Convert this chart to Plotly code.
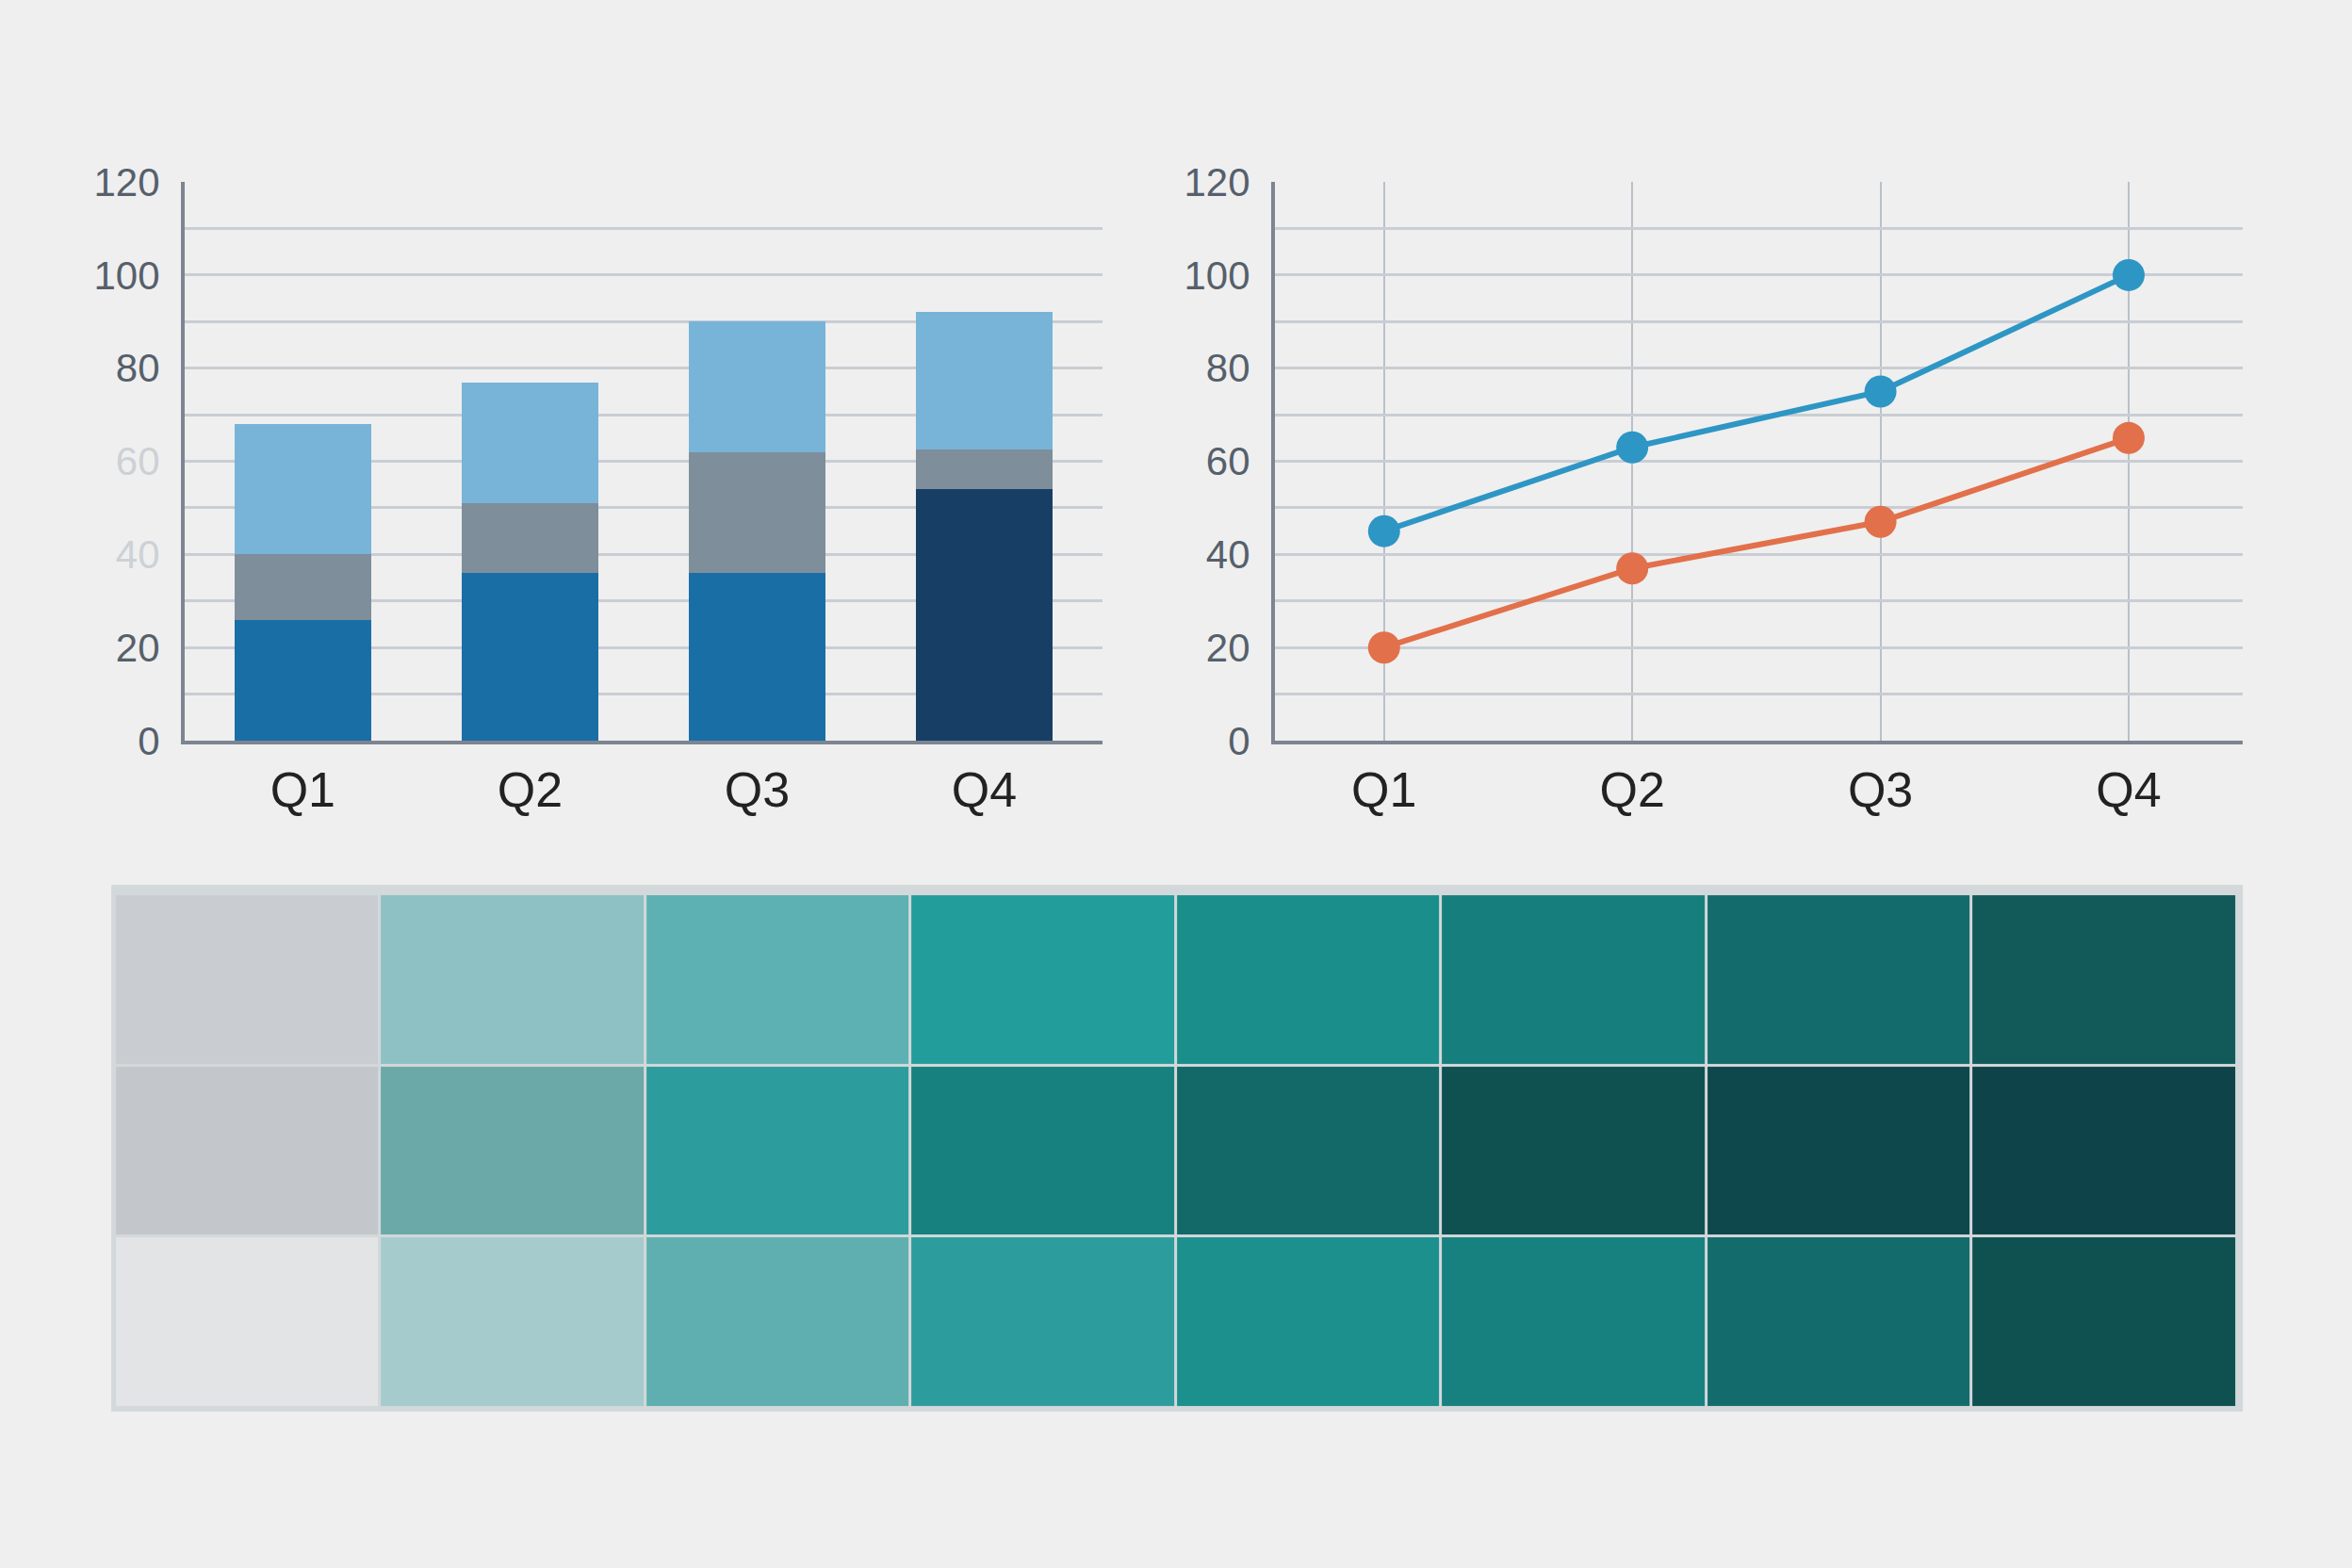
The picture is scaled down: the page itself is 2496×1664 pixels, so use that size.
import plotly.graph_objects as go

# --- data ---
quarters = ["Q1", "Q2", "Q3", "Q4"]

# stacked bars (left panel), bottom to top
bar_base = [26, 36, 36, 54]
bar_mid = [14, 15, 26, 8.5]
bar_top = [28, 26, 28, 29.5]

# line panel (right)
line_blue = [45, 63, 75, 100]
line_orange = [20, 37, 47, 65]

# heatmap (bottom), rows top -> bottom
heat_cols = ["c1", "c2", "c3", "c4", "c5", "c6", "c7", "c8"]
heat_rows = ["r1", "r2", "r3"]
heat_z = [
    [12, 30, 45, 60, 68, 76, 85, 90],
    [15, 40, 56, 75, 83, 93, 97, 100],
    [0, 24, 44, 56, 67, 75, 85, 93],
]

y_vals = list(range(0, 130, 10))
faint = "#cdd1d5"
left_text = ["0", "", "20", "", f"<span style='color:{faint}'>40</span>", "",
             f"<span style='color:{faint}'>60</span>", "", "80", "", "100", "", "120"]
right_text = ["0", "", "20", "", "40", "", "60", "", "80", "", "100", "", "120"]

BG = "#efefef"
GRID = "#c9cdd4"
AXIS = "#7c8591"
TICK = "#56606b"

fig = go.Figure()

# --- stacked bars ---
fig.add_trace(go.Bar(x=quarters, y=bar_base, width=0.6,
                     marker=dict(color=["#1a6ea6", "#1a6ea6", "#1a6ea6", "#173f66"], line=dict(width=0)),
                     xaxis="x", yaxis="y"))
fig.add_trace(go.Bar(x=quarters, y=bar_mid, width=0.6,
                     marker=dict(color="#7e8e9b", line=dict(width=0)),
                     xaxis="x", yaxis="y"))
fig.add_trace(go.Bar(x=quarters, y=bar_top, width=0.6,
                     marker=dict(color="#78b4d8", line=dict(width=0)),
                     xaxis="x", yaxis="y"))

# --- lines ---
fig.add_trace(go.Scatter(x=quarters, y=line_blue, mode="lines+markers",
                         line=dict(color="#2e96c4", width=6),
                         marker=dict(size=34, color="#2e96c4"),
                         xaxis="x2", yaxis="y2"))
fig.add_trace(go.Scatter(x=quarters, y=line_orange, mode="lines+markers",
                         line=dict(color="#e2704a", width=6),
                         marker=dict(size=34, color="#e2704a"),
                         xaxis="x2", yaxis="y2"))

# --- heatmap ---
scale = [
    [0.0, "#e3e4e5"], [0.12, "#c9cdd1"], [0.15, "#c3c7cb"], [0.24, "#a6cbcd"],
    [0.30, "#8ec1c3"], [0.40, "#6aa9a7"], [0.45, "#5db1b2"], [0.56, "#2d9c9c"],
    [0.60, "#239d9b"], [0.68, "#1a8e8b"], [0.76, "#167f7e"], [0.83, "#136868"],
    [0.85, "#136b6c"], [0.90, "#115a59"], [0.93, "#0f5051"], [0.97, "#0e484c"],
    [1.0, "#0e4449"],
]
fig.add_trace(go.Heatmap(z=heat_z, x=heat_cols, y=heat_rows, colorscale=scale,
                         zmin=0, zmax=100, showscale=False, xgap=3, ygap=3,
                         hoverinfo="z", xaxis="x3", yaxis="y3"))

tick_font = dict(family="Liberation Sans, Arial, sans-serif", size=42, color=TICK)
cat_font = dict(family="Liberation Sans, Arial, sans-serif", size=52, color="#222222")

# the page body adds an 8px border, so the figure is 16px smaller than the window
fig.update_layout(
    width=2480, height=1648,
    barmode="stack",
    showlegend=False,
    paper_bgcolor=BG, plot_bgcolor=BG,
    margin=dict(l=0, r=0, t=0, b=0, autoexpand=False),
    xaxis=dict(domain=[0.0758, 0.4685], range=[-0.52, 3.52], showgrid=False,
               showline=True, linecolor=AXIS, linewidth=4, ticks="",
               tickfont=cat_font, ticklabelstandoff=4, anchor="y", automargin=False),
    yaxis=dict(domain=[0.5279, 0.8877], range=[0, 120], tickmode="array",
               tickvals=y_vals, ticktext=left_text, showgrid=True, gridcolor=GRID,
               gridwidth=3, zeroline=False, showline=True, linecolor=AXIS, linewidth=4,
               tickfont=tick_font, ticklabelstandoff=14, anchor="x", automargin=False),
    xaxis2=dict(domain=[0.5423, 0.9565], range=[-0.44, 3.46], showgrid=True,
                gridcolor="#b9c0c8", gridwidth=2, showline=True, linecolor=AXIS,
                linewidth=4, ticks="", tickfont=cat_font, ticklabelstandoff=4,
                anchor="y2", automargin=False),
    yaxis2=dict(domain=[0.5279, 0.8877], range=[0, 120], tickmode="array",
                tickvals=y_vals, ticktext=right_text, showgrid=True, gridcolor=GRID,
                gridwidth=3, zeroline=False, showline=True, linecolor=AXIS, linewidth=4,
                tickfont=tick_font, ticklabelstandoff=14, anchor="x2", automargin=False),
    xaxis3=dict(domain=[0.0460, 0.9540], showgrid=False, showticklabels=False,
                zeroline=False, anchor="y3", automargin=False),
    yaxis3=dict(domain=[0.0983, 0.4290], autorange="reversed", showgrid=False,
                showticklabels=False, zeroline=False, anchor="x3", automargin=False),
    shapes=[
        # frame behind the heatmap, also fills the cell gaps
        dict(type="rect", xref="paper", yref="paper", x0=0.0444, x1=0.9565,
             y0=0.0959, y1=0.4351, fillcolor="#d3d8da", line=dict(width=0),
             layer="below"),
    ],
)

fig.write_html("out.html",
               post_script="document.body.style.background='%s';" % BG)
